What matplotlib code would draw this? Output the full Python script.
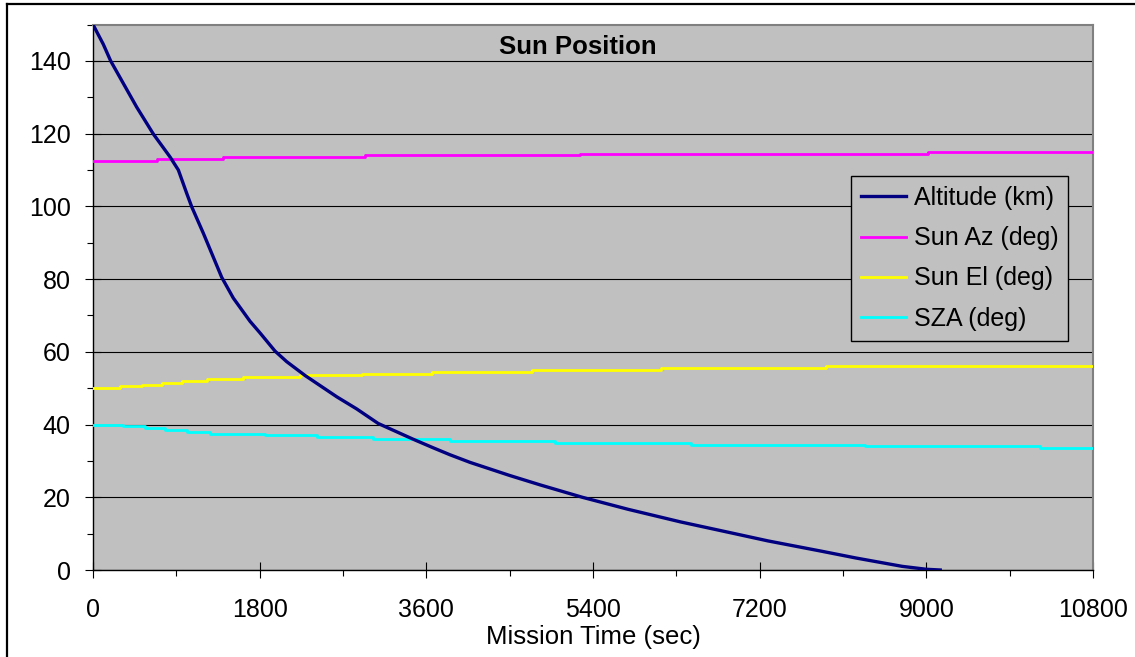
import matplotlib
matplotlib.use("Agg")
import matplotlib.pyplot as plt
from matplotlib.lines import Line2D
from matplotlib.ticker import MultipleLocator

plt.rcParams['font.family'] = ['Liberation Sans', 'DejaVu Sans']

# ---- data ----
alt_time = [0, 111, 191, 328, 472, 652, 832, 922, 1012, 1066, 1192, 1390, 1515,
            1696, 1804, 1966, 2092, 2290, 2635, 2848, 3080, 3455, 3675, 3855, 4072,
            4500, 4830, 5285, 5778, 6350, 6912, 7290, 7862, 8240, 8740, 9000, 9150]
alt_km = [150, 144.6, 140, 133.8, 127.3, 119.9, 113.6, 110, 103.6, 99.9, 92.6, 80.5, 74.8,
          68.4, 65.2, 60.2, 57.3, 53.5, 47.6, 44.3, 40.3, 36.0, 33.6, 31.7, 29.6,
          26.0, 23.4, 20.0, 16.7, 13.2, 10.1, 8.0, 5.2, 3.3, 1.0, 0.2, 0]

az_time = [0, 690, 1400, 2940, 5260, 9020, 10800]
az_deg = [112.5, 113.0, 113.5, 114.0, 114.5, 115.0, 115.0]

el_time = [0, 290, 530, 745, 960, 1230, 1620, 2235, 2905, 3660, 4740, 6135, 7920, 10800]
el_deg = [50, 50.5, 51, 51.5, 52, 52.5, 53, 53.5, 54, 54.5, 55, 55.5, 56, 56]

sza_time = [0, 325, 560, 780, 1015, 1265, 1860, 2420, 3025, 3855, 4990, 6460, 8340, 10230, 10800]
sza_deg = [40, 39.5, 39, 38.5, 38, 37.5, 37, 36.5, 36, 35.5, 35, 34.5, 34, 33.5, 33.5]

x_ticks = [0, 1800, 3600, 5400, 7200, 9000, 10800]
y_ticks = [0, 20, 40, 60, 80, 100, 120, 140]

W, H = 1135, 657
fig = plt.figure(figsize=(W / 100, H / 100), dpi=100)
fig.patch.set_facecolor('white')

L, R, T, B = 93, 1093, 24.6, 570
ax = fig.add_axes([L / W, 1 - B / H, (R - L) / W, (B - T) / H])
ax.set_facecolor('#C0C0C0')

ax.plot(alt_time, alt_km, color='#000080', lw=2.4, label='Altitude (km)', zorder=5)
ax.plot(az_time, az_deg, color='#FF00FF', lw=2.0, drawstyle='steps-post', label='Sun Az (deg)', zorder=4)
ax.plot(el_time, el_deg, color='#FFFF00', lw=2.0, drawstyle='steps-post', label='Sun El (deg)', zorder=4)
ax.plot(sza_time, sza_deg, color='#00FFFF', lw=2.0, drawstyle='steps-post', label='SZA (deg)', zorder=4)

ax.set_xlim(0, 10800)
ax.set_ylim(0, 150)
ax.set_xticks(x_ticks)
ax.set_yticks(y_ticks)
ax.xaxis.set_minor_locator(MultipleLocator(900))
ax.yaxis.set_minor_locator(MultipleLocator(10))
ax.grid(axis='y', which='major', color='black', lw=0.8, zorder=1)
ax.set_axisbelow(True)

ax.tick_params(axis='both', which='major', direction='inout', length=12, width=0.8,
               labelsize=18, color='black')
ax.tick_params(axis='y', which='major', pad=10)
ax.tick_params(axis='x', which='major', pad=14)
ax.tick_params(axis='both', which='minor', direction='out', length=4.5, width=0.8, color='black')

for s in ['left', 'bottom']:
    ax.spines[s].set_color('black')
    ax.spines[s].set_linewidth(1.0)
for s in ['top', 'right']:
    ax.spines[s].set_color('#808080')
    ax.spines[s].set_linewidth(1.5)

fig.text(593 / W, 1 - 637 / H, 'Mission Time (sec)', fontsize=18.5,
         ha='center', va='center')

fig.text(578 / W, 1 - 47 / H, 'Sun Position', fontsize=18.5, fontweight='bold',
         ha='center', va='center')

leg = ax.legend(loc='upper left', bbox_to_anchor=(851 / W, 1 - 176 / H),
                bbox_transform=fig.transFigure, fontsize=18, frameon=True,
                fancybox=False, shadow=False, borderaxespad=0, borderpad=0.4,
                labelspacing=0.65, handlelength=1.8, handletextpad=0.3)
fr = leg.get_frame()
fr.set_facecolor('#C0C0C0')
fr.set_edgecolor('black')
fr.set_linewidth(1.0)
fr.set_alpha(1)
leg.set_zorder(10)

# outer chart border
fig.add_artist(Line2D([7 / W, 1.0], [1 - 4 / H, 1 - 4 / H], color='black', lw=1.6,
                      transform=fig.transFigure))
fig.add_artist(Line2D([7 / W, 7 / W], [0.0, 1 - 4 / H], color='black', lw=1.6,
                      transform=fig.transFigure))

fig.savefig('out.png', dpi=100)
